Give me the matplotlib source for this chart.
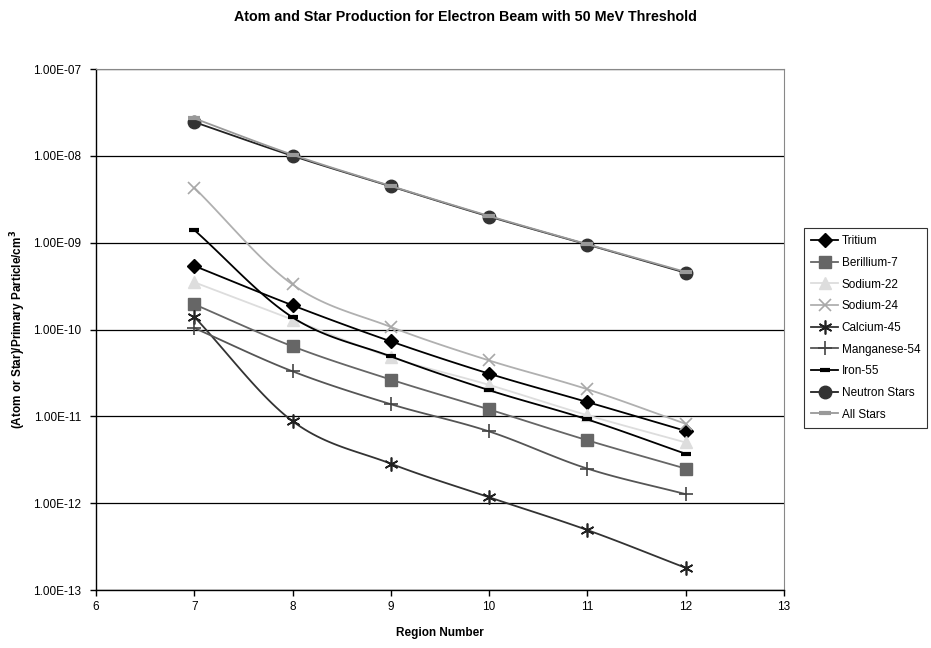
import numpy as np
import matplotlib.pyplot as plt
from matplotlib.ticker import FixedLocator, FuncFormatter

plt.rcParams['font.family'] = ['Liberation Sans', 'DejaVu Sans']

# data
regions = [7, 8, 9, 10, 11, 12]
tritium = [5.4e-10, 1.9e-10, 7.3e-11, 3.1e-11, 1.46e-11, 6.8e-12]
beryllium7 = [1.95e-10, 6.4e-11, 2.65e-11, 1.2e-11, 5.3e-12, 2.5e-12]
sodium22 = [3.5e-10, 1.3e-10, 4.8e-11, 2.3e-11, 1.03e-11, 5.0e-12]
sodium24 = [4.3e-9, 3.3e-10, 1.07e-10, 4.4e-11, 2.05e-11, 8.2e-12]
calcium45 = [1.4e-10, 8.8e-12, 2.85e-12, 1.17e-12, 4.9e-13, 1.8e-13]
manganese54 = [1.04e-10, 3.3e-11, 1.38e-11, 6.7e-12, 2.5e-12, 1.27e-12]
iron55 = [1.4e-9, 1.38e-10, 4.9e-11, 2.0e-11, 9.2e-12, 3.7e-12]
neutron_stars = [2.45e-8, 1.0e-8, 4.45e-9, 2.0e-9, 9.5e-10, 4.5e-10]
all_stars = [2.7e-8, 1.03e-8, 4.5e-9, 2.03e-9, 9.6e-10, 4.6e-10]

names = ['Tritium', 'Berillium-7', 'Sodium-22', 'Sodium-24', 'Calcium-45',
         'Manganese-54', 'Iron-55', 'Neutron Stars', 'All Stars']
series = [tritium, beryllium7, sodium22, sodium24, calcium45,
          manganese54, iron55, neutron_stars, all_stars]

styles = [
    dict(color='black', marker='D', ms=7, mfc='black', mec='black'),
    dict(color='#666666', marker='s', ms=8, mfc='#666666', mec='#666666'),
    dict(color='#dddddd', marker='^', ms=8, mfc='#dddddd', mec='#dddddd'),
    dict(color='#b0b0b0', marker='x', ms=9, mew=1.2, mfc='none', mec='#a8a8a8'),
    dict(color='#333333', marker=(6, 2, 0), ms=10, mew=1.2, mec='#222222'),
    dict(color='#555555', marker='+', ms=10, mew=1.2, mec='#444444'),
    dict(color='black', marker='_', ms=7, mew=3, mec='black'),
    dict(color='#222222', marker='o', ms=9, mfc='#333333', mec='#333333'),
    dict(color='#999999', marker='_', ms=9, mew=3, mec='#999999'),
]


def smooth(xs, ys, n=24):
    # Catmull-Rom through points in (x, log y) space, like Excel smoothed lines
    x = np.asarray(xs, float)
    y = np.log10(np.asarray(ys, float))
    px = np.concatenate([[2 * x[0] - x[1]], x, [2 * x[-1] - x[-2]]])
    py = np.concatenate([[2 * y[0] - y[1]], y, [2 * y[-1] - y[-2]]])
    outx, outy = [], []
    for i in range(1, len(px) - 2):
        t = np.linspace(0, 1, n, endpoint=False)
        for p, out in ((px, outx), (py, outy)):
            p0, p1, p2, p3 = p[i - 1], p[i], p[i + 1], p[i + 2]
            out.extend(0.5 * ((2 * p1) + (-p0 + p2) * t
                              + (2 * p0 - 5 * p1 + 4 * p2 - p3) * t ** 2
                              + (-p0 + 3 * p1 - 3 * p2 + p3) * t ** 3))
    outx.append(x[-1])
    outy.append(y[-1])
    idx = list(range(0, n * (len(x) - 1) + 1, n))
    return np.array(outx), 10 ** np.array(outy), idx


fig = plt.figure(figsize=(9.31, 6.48), dpi=100)
ax = fig.add_axes([0.1031, 0.0895, 0.739, 0.804])

for name, vals, st in zip(names, series, styles):
    sx, sy, idx = smooth(regions, vals)
    ax.plot(sx, sy, label=name, lw=1.3, markevery=idx, zorder=3, **st)

ax.set_yscale('log')
ax.set_ylim(1e-13, 1e-7)
ax.set_xlim(6, 13)
ax.set_xticks(range(6, 14))
ax.yaxis.set_major_locator(FixedLocator([10.0 ** k for k in range(-13, -6)]))
ax.yaxis.set_minor_locator(FixedLocator([]))
ax.yaxis.set_major_formatter(FuncFormatter(lambda v, p: '%.2E' % v))
ax.grid(axis='y', color='black', lw=0.9)
ax.set_axisbelow(True)

ax.spines['top'].set_color('#888888')
ax.spines['right'].set_color('#888888')
ax.spines['left'].set_linewidth(1.0)
ax.spines['bottom'].set_linewidth(1.0)
ax.tick_params(direction='out', length=4.5, labelsize=8.5, width=1)
ax.tick_params(axis='y', pad=6)

ax.set_xlabel('Region Number', fontsize=8.5, fontweight='bold', labelpad=10)
ax.set_ylabel('(Atom or Star)/Primary Particle/cm$^\\mathbf{3}$', fontsize=8.5,
              fontweight='bold')
ax.yaxis.set_label_coords(-0.099, 0.5)
fig.suptitle('Atom and Star Production for Electron Beam with 50 MeV Threshold',
             fontsize=10.3, fontweight='bold', y=0.985)

leg = fig.legend(loc='upper left', bbox_to_anchor=(0.8636, 0.648), fontsize=8.5,
                 frameon=True, fancybox=False, edgecolor='black', borderpad=0.6,
                 labelspacing=0.82, handlelength=2.3, handletextpad=0.3,
                 borderaxespad=0)
leg.get_frame().set_linewidth(0.8)

fig.savefig('out.png', dpi=100)
